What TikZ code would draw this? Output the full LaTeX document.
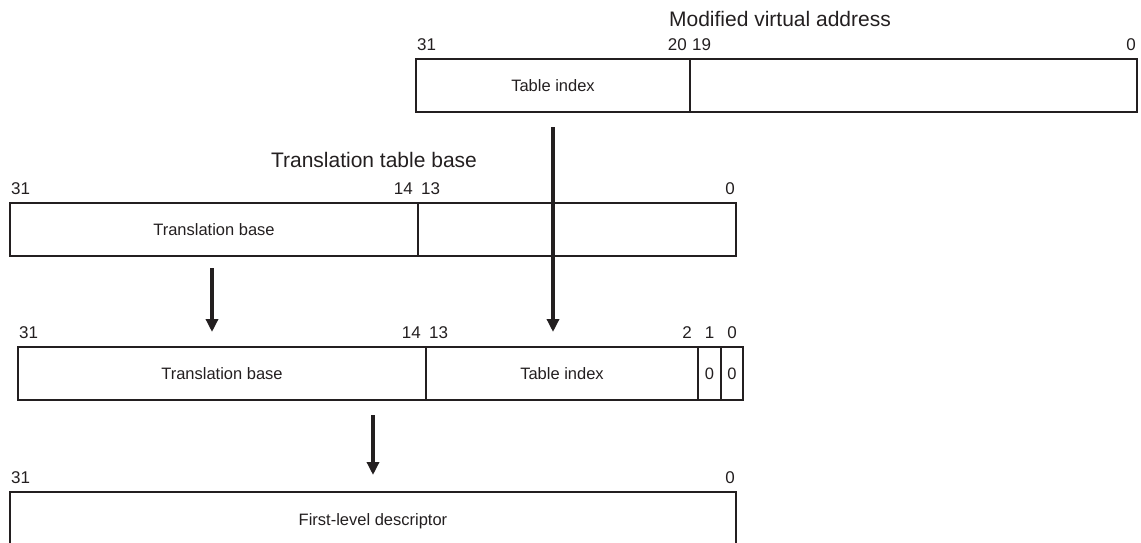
\documentclass[tikz,border=0pt]{standalone}
\usepackage{fontspec}
\setmainfont{Liberation Sans}
\usetikzlibrary{positioning,calc,arrows.meta}
\definecolor{ink}{HTML}{231F20}

\begin{document}
\begin{tikzpicture}[
        x=1pt, y=-1pt,
        node distance=0pt,
        every node/.style={text=ink},
        field/.style={rectangle, draw=ink, line width=1.6pt, outer sep=0pt, inner sep=0pt,
            minimum height=53pt, font=\fontsize{16.5}{19}\selectfont},
        bit/.style={inner sep=0pt, font=\fontsize{17}{20}\selectfont},
        title/.style={inner sep=0pt, font=\fontsize{21}{25}\selectfont},
        flow/.style={draw=ink, line width=3.6pt, -{Triangle[length=13pt,width=12pt]}}
    ]
        \useasboundingbox (0,0) rectangle (1141,542);

        % modified virtual address
        \node[title, anchor=base] (mvatitle) at (780,26) {Modified virtual address};
        \node[field, minimum width=274pt, anchor=north west] (mvaidx) at (416,59) {Table index};
        \node[field, minimum width=447pt, right=of mvaidx] (mvalow) {};
        \node[bit, above right=8pt and 1pt of mvaidx.north west] (mva31) {31};
        \node[bit, above left=8pt and 3pt of mvaidx.north east] (mva20) {20};
        \node[bit, above right=8pt and 2pt of mvalow.north west] (mva19) {19};
        \node[bit, above left=8pt and 1pt of mvalow.north east] (mva0) {0};

        % translation table base
        \node[title, anchor=base] (ttbtitle) at (374,167) {Translation table base};
        \node[field, minimum width=408pt, anchor=north west] (ttbbase) at (10,203) {Translation base};
        \node[field, minimum width=318pt, right=of ttbbase] (ttblow) {};
        \node[bit, above right=8pt and 1pt of ttbbase.north west] (ttb31) {31};
        \node[bit, above left=8pt and 5pt of ttbbase.north east] (ttb14) {14};
        \node[bit, above right=8pt and 3pt of ttblow.north west] (ttb13) {13};
        \node[bit, above left=8pt and 1pt of ttblow.north east] (ttb0) {0};

        % descriptor address
        \node[field, minimum width=408pt, anchor=north west] (base) at (18,347) {Translation base};
        \node[field, minimum width=272pt, right=of base] (index) {Table index};
        \node[field, minimum width=23pt, right=of index] (zeroa) {0};
        \node[field, minimum width=22pt, right=of zeroa] (zerob) {0};
        \node[bit, above right=8pt and 1pt of base.north west] (adr31) {31};
        \node[bit, above left=8pt and 5pt of base.north east] (adr14) {14};
        \node[bit, above right=8pt and 3pt of index.north west] (adr13) {13};
        \node[bit, above left=8pt and 6pt of index.north east] (adr2) {2};
        \node[bit, above=8pt of zeroa.north] (adr1) {1};
        \node[bit, above=8pt of zerob.north] (adr0) {0};

        % first-level descriptor
        \node[field, minimum width=726pt, minimum height=58pt, anchor=north west] (desc) at (10,492) {First-level descriptor};
        \node[bit, above right=8pt and 1pt of desc.north west] (desc31) {31};
        \node[bit, above left=8pt and 1pt of desc.north east] (desc0) {0};

        \coordinate (mvaout) at ($(mvaidx.south)+(0,15)$);
        \coordinate (indexin) at ($(mvaout |- index.north)+(0,-15)$);
        \coordinate (ttbout) at ($(ttbbase.south)+(-2,12)$);
        \coordinate (basein) at ($(ttbout |- base.north)+(0,-15)$);
        \coordinate (adrout) at ($(desc.north |- base.south)+(0,15)$);
        \coordinate (descin) at ($(desc.north)+(0,-17)$);

        \draw[flow] (mvaout) -- (indexin);
        \draw[flow] (ttbout) -- (basein);
        \draw[flow] (adrout) -- (descin);
    \end{tikzpicture}
\end{document}
